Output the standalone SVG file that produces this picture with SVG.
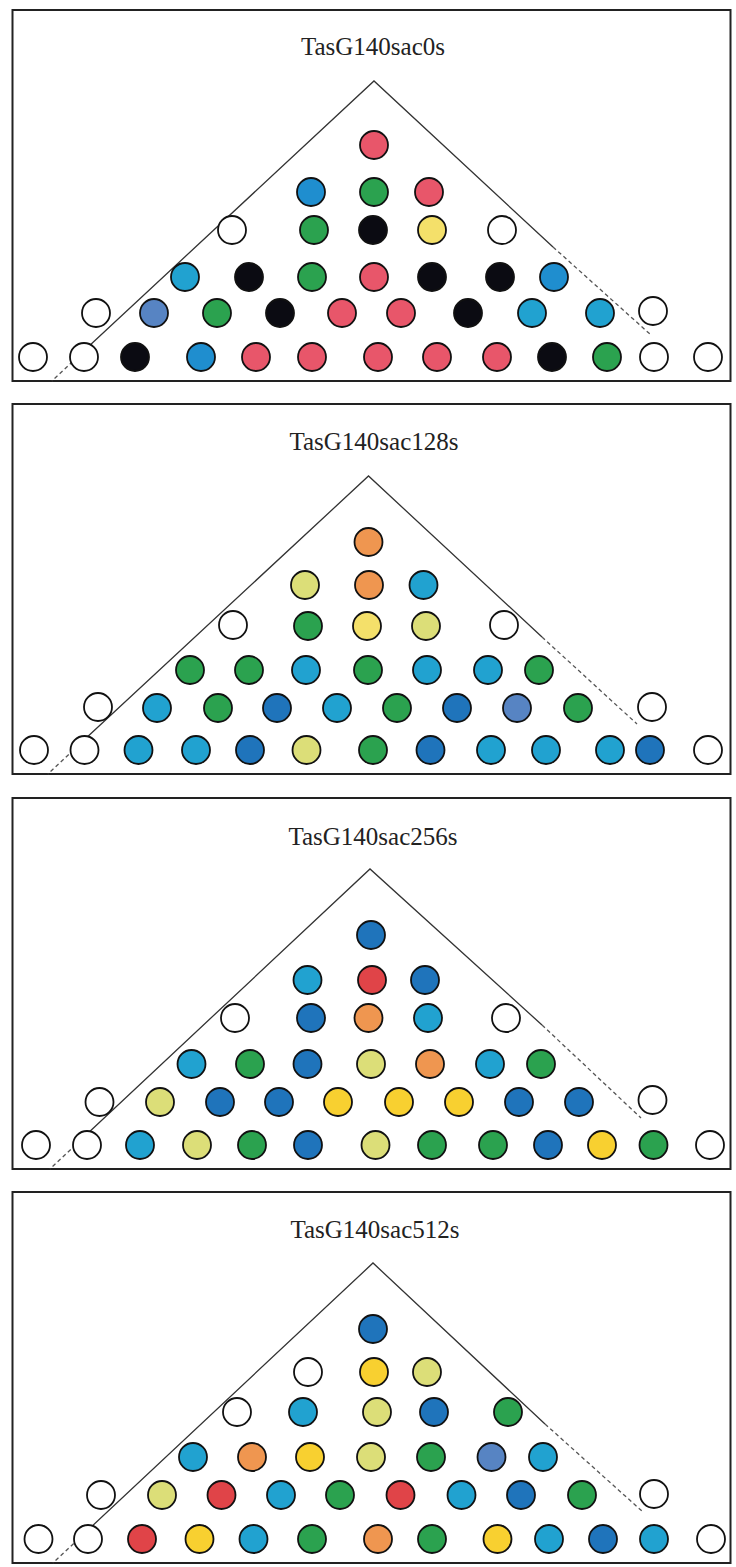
<svg xmlns="http://www.w3.org/2000/svg" width="736" height="1567" viewBox="0 0 736 1567">
<style>
.box{fill:#fff;stroke:#222;stroke-width:2}
.title{font-family:"Liberation Serif","Times New Roman",serif;font-size:25px;fill:#222;text-anchor:middle}
.ln{stroke:#333;stroke-width:1.3;fill:none}
.dl{stroke:#555;stroke-width:1.3;fill:none;stroke-dasharray:4 3}
circle{stroke:#111;stroke-width:1.8}
.W{fill:#fff}.K{fill:#0b0b12}.R{fill:#e8566a}.Q{fill:#e04448}.G{fill:#2ba24f}.C{fill:#21a2d0}.M{fill:#1f8ecf}.B{fill:#1f74bb}.S{fill:#5784c3}.Y{fill:#f4e06a}.O{fill:#f8d030}.P{fill:#dcde78}.A{fill:#ef9650}
</style>
<rect width="736" height="1567" fill="#fff"/>

<g id="panel1">
<rect class="box" x="12.5" y="10" width="718" height="371"/>
<text class="title" x="373" y="55">TasG140sac0s</text>
<g id="p1-guides">
<polyline class="ln" points="88,347 374,81 553,247"/>
<line class="dl" x1="88" y1="347" x2="52" y2="381"/>
<line class="dl" x1="553" y1="247" x2="651" y2="335"/>
</g>
<g id="p1-nodes" r="14">
<circle cx="374" cy="145" r="14" class="R"/>
<circle cx="311" cy="192" r="14" class="M"/><circle cx="374" cy="192" r="14" class="G"/><circle cx="429" cy="192" r="14" class="R"/>
<circle cx="232" cy="230" r="14" class="W"/><circle cx="314" cy="230" r="14" class="G"/><circle cx="373" cy="230" r="14" class="K"/><circle cx="432" cy="230" r="14" class="Y"/><circle cx="502" cy="230" r="14" class="W"/>
<circle cx="185" cy="277" r="14" class="C"/><circle cx="249" cy="277" r="14" class="K"/><circle cx="312" cy="277" r="14" class="G"/><circle cx="374" cy="277" r="14" class="R"/><circle cx="432" cy="277" r="14" class="K"/><circle cx="500" cy="277" r="14" class="K"/><circle cx="554" cy="277" r="14" class="M"/>
<circle cx="96" cy="313" r="14" class="W"/><circle cx="154" cy="313" r="14" class="S"/><circle cx="217" cy="313" r="14" class="G"/><circle cx="280" cy="313" r="14" class="K"/><circle cx="342" cy="313" r="14" class="R"/><circle cx="401" cy="313" r="14" class="R"/><circle cx="468" cy="313" r="14" class="K"/><circle cx="532" cy="313" r="14" class="C"/><circle cx="600" cy="313" r="14" class="C"/><circle cx="653" cy="311" r="14" class="W"/>
<circle cx="33" cy="357" r="14" class="W"/><circle cx="84" cy="357" r="14" class="W"/><circle cx="135" cy="357" r="14" class="K"/><circle cx="201" cy="357" r="14" class="M"/><circle cx="256" cy="357" r="14" class="R"/><circle cx="312" cy="357" r="14" class="R"/><circle cx="378" cy="357" r="14" class="R"/><circle cx="437" cy="357" r="14" class="R"/><circle cx="497" cy="357" r="14" class="R"/><circle cx="552" cy="357" r="14" class="K"/><circle cx="607" cy="357" r="14" class="G"/><circle cx="654" cy="357" r="14" class="W"/><circle cx="708" cy="357" r="14" class="W"/>
</g>
</g>

<g id="panel2">
<rect class="box" x="12.5" y="404" width="718" height="370"/>
<text class="title" x="374" y="450">TasG140sac128s</text>
<g id="p2-guides">
<polyline class="ln" points="84,740 368.5,476 542,637"/>
<line class="dl" x1="84" y1="740" x2="48" y2="774"/>
<line class="dl" x1="542" y1="637" x2="637" y2="724"/>
</g>
<g id="p2-nodes">
<circle cx="368.5" cy="542" r="14" class="A"/>
<circle cx="305" cy="585" r="14" class="P"/><circle cx="369" cy="585" r="14" class="A"/><circle cx="423.5" cy="585" r="14" class="C"/>
<circle cx="233" cy="625" r="14" class="W"/><circle cx="308" cy="626" r="14" class="G"/><circle cx="367" cy="626" r="14" class="Y"/><circle cx="426" cy="626" r="14" class="P"/><circle cx="504" cy="625" r="14" class="W"/>
<circle cx="190" cy="670" r="14" class="G"/><circle cx="249" cy="670" r="14" class="G"/><circle cx="306" cy="670" r="14" class="C"/><circle cx="368" cy="670" r="14" class="G"/><circle cx="427" cy="670" r="14" class="C"/><circle cx="488" cy="670" r="14" class="C"/><circle cx="539" cy="670" r="14" class="G"/>
<circle cx="98" cy="707" r="14" class="W"/><circle cx="157" cy="708" r="14" class="C"/><circle cx="218" cy="708" r="14" class="G"/><circle cx="277" cy="708" r="14" class="B"/><circle cx="337" cy="708" r="14" class="C"/><circle cx="397" cy="708" r="14" class="G"/><circle cx="457" cy="708" r="14" class="B"/><circle cx="517" cy="708" r="14" class="S"/><circle cx="578" cy="708" r="14" class="G"/><circle cx="652" cy="707" r="14" class="W"/>
<circle cx="34" cy="750" r="14" class="W"/><circle cx="84.5" cy="750" r="14" class="W"/><circle cx="138.5" cy="750" r="14" class="C"/><circle cx="196" cy="750" r="14" class="C"/><circle cx="250" cy="750" r="14" class="B"/><circle cx="306.5" cy="750" r="14" class="P"/><circle cx="373" cy="750" r="14" class="G"/><circle cx="430.5" cy="750" r="14" class="B"/><circle cx="491" cy="750" r="14" class="C"/><circle cx="546" cy="750" r="14" class="C"/><circle cx="610" cy="750" r="14" class="C"/><circle cx="650" cy="750" r="14" class="B"/><circle cx="708" cy="750" r="14" class="W"/>
</g>
</g>

<g id="panel3">
<rect class="box" x="12.5" y="798" width="718" height="371"/>
<text class="title" x="373" y="845">TasG140sac256s</text>
<g id="p3-guides">
<polyline class="ln" points="86,1135 370,869 542,1025"/>
<line class="dl" x1="86" y1="1135" x2="50" y2="1169"/>
<line class="dl" x1="542" y1="1025" x2="641" y2="1118"/>
</g>
<g id="p3-nodes">
<circle cx="371" cy="935" r="14" class="B"/>
<circle cx="307.5" cy="980" r="14" class="C"/><circle cx="372" cy="980" r="14" class="Q"/><circle cx="425" cy="980" r="14" class="B"/>
<circle cx="235" cy="1018" r="14" class="W"/><circle cx="311" cy="1018" r="14" class="B"/><circle cx="368.5" cy="1018" r="14" class="A"/><circle cx="428" cy="1018" r="14" class="C"/><circle cx="506" cy="1018" r="14" class="W"/>
<circle cx="191.5" cy="1064" r="14" class="C"/><circle cx="250" cy="1064" r="14" class="G"/><circle cx="307.5" cy="1064" r="14" class="B"/><circle cx="371" cy="1064" r="14" class="P"/><circle cx="430" cy="1064" r="14" class="A"/><circle cx="490" cy="1064" r="14" class="C"/><circle cx="541" cy="1064" r="14" class="G"/>
<circle cx="99.5" cy="1102" r="14" class="W"/><circle cx="160" cy="1102" r="14" class="P"/><circle cx="220" cy="1102" r="14" class="B"/><circle cx="279" cy="1102" r="14" class="B"/><circle cx="338" cy="1102" r="14" class="O"/><circle cx="399" cy="1102" r="14" class="O"/><circle cx="459" cy="1102" r="14" class="O"/><circle cx="519" cy="1102" r="14" class="B"/><circle cx="579" cy="1102" r="14" class="B"/><circle cx="652.5" cy="1100" r="14" class="W"/>
<circle cx="36" cy="1145" r="14" class="W"/><circle cx="87" cy="1145" r="14" class="W"/><circle cx="140" cy="1145" r="14" class="C"/><circle cx="197" cy="1145" r="14" class="P"/><circle cx="252" cy="1145" r="14" class="G"/><circle cx="308" cy="1145" r="14" class="B"/><circle cx="375.5" cy="1145" r="14" class="P"/><circle cx="432" cy="1145" r="14" class="G"/><circle cx="493" cy="1145" r="14" class="G"/><circle cx="548" cy="1145" r="14" class="B"/><circle cx="602" cy="1145" r="14" class="O"/><circle cx="653.5" cy="1145" r="14" class="G"/><circle cx="710" cy="1145" r="14" class="W"/>
</g>
</g>

<g id="panel4">
<rect class="box" x="12.5" y="1192" width="718" height="371"/>
<text class="title" x="375" y="1238">TasG140sac512s</text>
<g id="p4-guides">
<polyline class="ln" points="89,1529 373,1263 545,1424"/>
<line class="dl" x1="89" y1="1529" x2="53" y2="1563"/>
<line class="dl" x1="545" y1="1424" x2="643" y2="1512"/>
</g>
<g id="p4-nodes">
<circle cx="373" cy="1329" r="14" class="B"/>
<circle cx="308" cy="1372" r="14" class="W"/><circle cx="374" cy="1372" r="14" class="O"/><circle cx="427" cy="1372" r="14" class="P"/>
<circle cx="237" cy="1412" r="14" class="W"/><circle cx="303" cy="1412" r="14" class="C"/><circle cx="377" cy="1412" r="14" class="P"/><circle cx="434" cy="1412" r="14" class="B"/><circle cx="508" cy="1412" r="14" class="G"/>
<circle cx="193" cy="1457" r="14" class="C"/><circle cx="252" cy="1457" r="14" class="A"/><circle cx="310" cy="1457" r="14" class="O"/><circle cx="371" cy="1457" r="14" class="P"/><circle cx="431" cy="1457" r="14" class="G"/><circle cx="491.5" cy="1457" r="14" class="S"/><circle cx="543" cy="1457" r="14" class="C"/>
<circle cx="101" cy="1495" r="14" class="W"/><circle cx="162" cy="1495" r="14" class="P"/><circle cx="221.5" cy="1495" r="14" class="Q"/><circle cx="281" cy="1495" r="14" class="C"/><circle cx="340" cy="1495" r="14" class="G"/><circle cx="400.5" cy="1495" r="14" class="Q"/><circle cx="461.5" cy="1495" r="14" class="C"/><circle cx="521" cy="1495" r="14" class="B"/><circle cx="582" cy="1495" r="14" class="G"/><circle cx="654" cy="1494" r="14" class="W"/>
<circle cx="38.5" cy="1539" r="14" class="W"/><circle cx="88" cy="1539" r="14" class="W"/><circle cx="142" cy="1539" r="14" class="Q"/><circle cx="199.5" cy="1539" r="14" class="O"/><circle cx="253.5" cy="1539" r="14" class="C"/><circle cx="312" cy="1539" r="14" class="G"/><circle cx="378" cy="1539" r="14" class="A"/><circle cx="432" cy="1539" r="14" class="G"/><circle cx="497.5" cy="1539" r="14" class="O"/><circle cx="549" cy="1539" r="14" class="C"/><circle cx="603" cy="1539" r="14" class="B"/><circle cx="654" cy="1539" r="14" class="C"/><circle cx="711" cy="1539" r="14" class="W"/>
</g>
</g>
</svg>
